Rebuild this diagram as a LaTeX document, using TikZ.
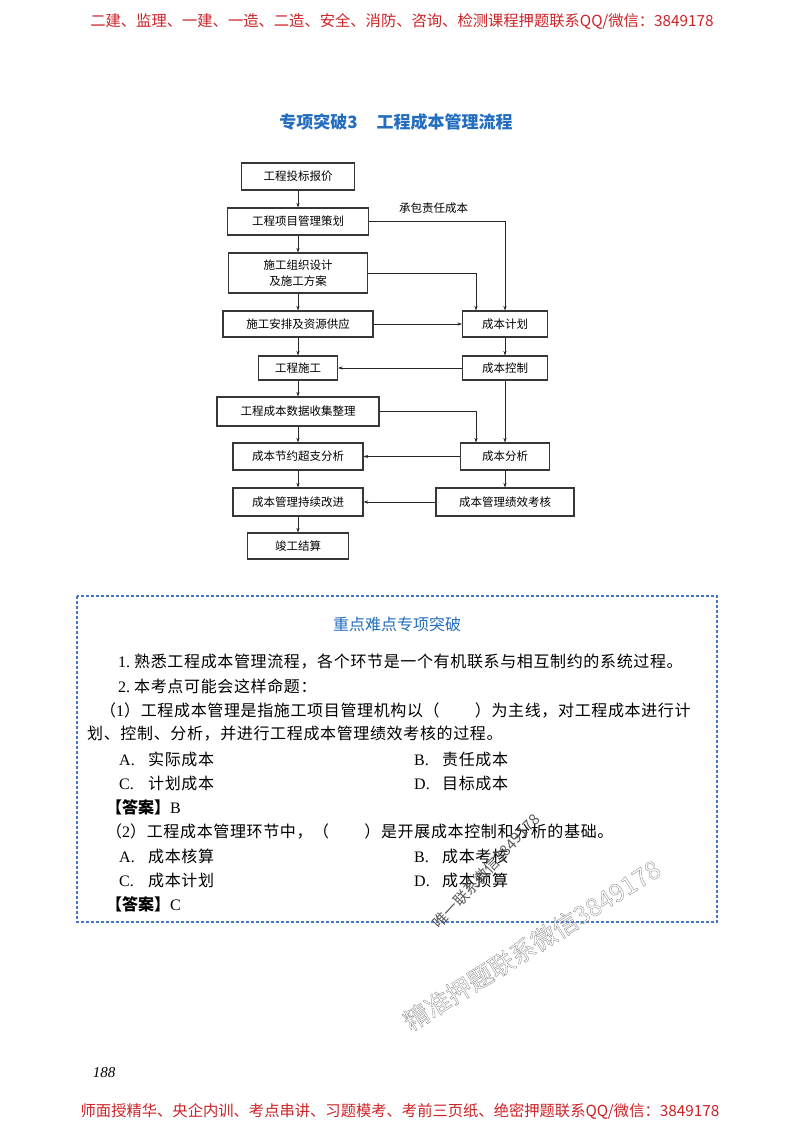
\documentclass[tikz,border=0pt]{standalone}
\usepackage{fontspec}
\setmainfont{Liberation Serif}
\newfontfamily\cjk{Noto Sans CJK SC}
\newfontfamily\cjkls[LetterSpace=4]{Noto Sans CJK SC}
\usetikzlibrary{arrows.meta,calc}
\XeTeXlinebreaklocale "zh"
\XeTeXlinebreakskip=0pt plus 3pt minus 1pt
\definecolor{hdrred}{RGB}{205,35,40}
\definecolor{ttlblue}{RGB}{35,110,190}
\definecolor{dashblue}{RGB}{70,120,200}
\definecolor{boxline}{RGB}{55,55,55}
\definecolor{wmgray}{RGB}{140,140,140}
\definecolor{wmdark}{RGB}{90,90,90}
\newcommand{\outlinetext}[1]{\special{pdf:literal direct 1 Tr 0.35 w}#1\special{pdf:literal direct 0 Tr}}
\begin{document}
\begin{tikzpicture}[x=1pt,y=-1pt,
  fbox/.style={draw=boxline,line width=1.1pt,inner sep=0pt,align=center,
    font=\cjk\fontsize{11.5}{16.5}\selectfont},
  lbl/.style={inner sep=0pt,font=\cjk\fontsize{11.5}{14}\selectfont},
  conn/.style={draw=black!85,line width=0.7pt,-{Stealth[length=4.5pt,width=3.2pt]}},
  body/.style={anchor=west,inner sep=0pt,font=\cjkls\fontsize{16}{20}\selectfont},
  redline/.style={inner sep=0pt,text=hdrred,font=\cjk\fontsize{15.3}{18}\selectfont},
  wmark/.style={inner sep=0pt}]
\useasboundingbox[fill=white] (0,0) rectangle (800,1132);

% header / footer
\node[redline] (hdr) at (402,21) {二建、监理、一建、一造、二造、安全、消防、咨询、检测课程押题联系QQ/微信：3849178};
\node[redline] (ftr) at (400,1111) {师面授精华、央企内训、考点串讲、习题模考、考前三页纸、绝密押题联系QQ/微信：3849178};
\node[inner sep=0pt,font=\itshape\fontsize{15}{18}\selectfont] (pg) at (104,1073) {188};

% title
\node[inner sep=0pt,text=ttlblue,font=\cjk\bfseries\fontsize{17}{20}\selectfont] (title) at (396,122)
  {专项突破3\hspace{19pt}工程成本管理流程};

% flowchart left column
\node[fbox,minimum width=113pt,minimum height=27pt] (n1) at (298,176.5) {工程投标报价};
\node[fbox,minimum width=141pt,minimum height=27pt] (n2) at (298,221.5) {工程项目管理策划};
\node[fbox,minimum width=139pt,minimum height=40pt] (n3) at (298,273) {施工组织设计\\及施工方案};
\node[fbox,minimum width=150pt,minimum height=26pt] (n4) at (298,324) {施工安排及资源供应};
\node[fbox,minimum width=79pt,minimum height=24pt] (n5) at (298,368) {工程施工};
\node[fbox,minimum width=162pt,minimum height=29pt] (n6) at (298,411.5) {工程成本数据收集整理};
\node[fbox,minimum width=130pt,minimum height=27pt] (n7) at (298,456.5) {成本节约超支分析};
\node[fbox,minimum width=130pt,minimum height=28pt] (n8) at (298,502) {成本管理持续改进};
\node[fbox,minimum width=101pt,minimum height=26pt] (n9) at (298,546) {竣工结算};
% right column
\node[fbox,minimum width=85pt,minimum height=26pt] (r1) at (505,324) {成本计划};
\node[fbox,minimum width=85pt,minimum height=24pt] (r2) at (505,368) {成本控制};
\node[fbox,minimum width=89pt,minimum height=27pt] (r3) at (505,456.5) {成本分析};
\node[fbox,minimum width=138pt,minimum height=28pt] (r4) at (505,502) {成本管理绩效考核};
\coordinate (colA) at (476,0);

\foreach \a/\b in {n1/n2,n2/n3,n3/n4,n4/n5,n5/n6,n6/n7,n7/n8,n8/n9}
  \draw[conn] (\a.south) -- (\b.north);
\draw[conn] (n2.east) -| (r1.north);
\node[lbl] (lab) at (433.5,208) {承包责任成本};
\draw[conn] (n3.east) -| (colA |- r1.north);
\draw[conn] (n4.east) -- (r1.west);
\draw[conn] (r1.south) -- (r2.north);
\draw[conn] (r2.west) -- (n5.east);
\draw[conn] (r2.south) -- (r3.north);
\draw[conn] (n6.east) -| (colA |- r3.north);
\draw[conn] (r3.west) -- (n7.east);
\draw[conn] (r3.south) -- (r4.north);
\draw[conn] (r4.west) -- (n8.east);

% key points box
\draw[dashblue,line width=1.2pt,dash pattern=on 3pt off 2pt] (77,596) rectangle (717,922);
\node[inner sep=0pt,text=ttlblue,font=\cjk\fontsize{16}{20}\selectfont] (kh) at (397,624) {重点难点专项突破};
\node[body] (l1) at (118,662) {\makebox[550pt][s]{{\rmfamily 1.}\hspace{4pt}熟悉工程成本管理流程，各个环节是一个有机联系与相互制约的系统过程。}};
\node[body] (l2) at (118,686) {{\rmfamily 2.}\hspace{4pt}本考点可能会这样命题：};
\node[body] (l3) at (100,710) {\makebox[612pt][s]{（{\rmfamily 1}）工程成本管理是指施工项目管理机构以（\hspace{2.2em}）为主线，对工程成本进行计}};
\node[body] (l4) at (87,734) {划、控制、分析，并进行工程成本管理绩效考核的过程。};
\node[body] (o1a) at (119,759) {\makebox[29pt][l]{\rmfamily A.}实际成本};
\node[body] (o1b) at (414,759) {\makebox[28pt][l]{\rmfamily B.}责任成本};
\node[body] (o1c) at (119,783) {\makebox[29pt][l]{\rmfamily C.}计划成本};
\node[body] (o1d) at (414,783) {\makebox[28pt][l]{\rmfamily D.}目标成本};
\node[body] (ans1) at (106,807) {{\cjk\bfseries 【答案】}{\rmfamily B}};
\node[body] (l5) at (106,831) {（{\rmfamily 2}）工程成本管理环节中，（\hspace{2.2em}）是开展成本控制和分析的基础。};
\node[body] (o2a) at (119,856) {\makebox[29pt][l]{\rmfamily A.}成本核算};
\node[body] (o2b) at (414,856) {\makebox[28pt][l]{\rmfamily B.}成本考核};
\node[body] (o2c) at (119,880) {\makebox[29pt][l]{\rmfamily C.}成本计划};
\node[body] (o2d) at (414,880) {\makebox[28pt][l]{\rmfamily D.}成本预算};
\node[body] (ans2) at (106,904) {{\cjk\bfseries 【答案】}{\rmfamily C}};

% watermarks
\node[wmark,text=wmdark,rotate=47,font=\cjk\fontsize{15}{17}\selectfont] (wm1) at (486,871) {唯一联系微信3849178};
\node[wmark,text=wmgray,rotate=32,font=\cjk\fontsize{25}{28}\selectfont] (wm2) at (532,945) {\outlinetext{精准押题联系微信3849178}};
\end{tikzpicture}
\end{document}
